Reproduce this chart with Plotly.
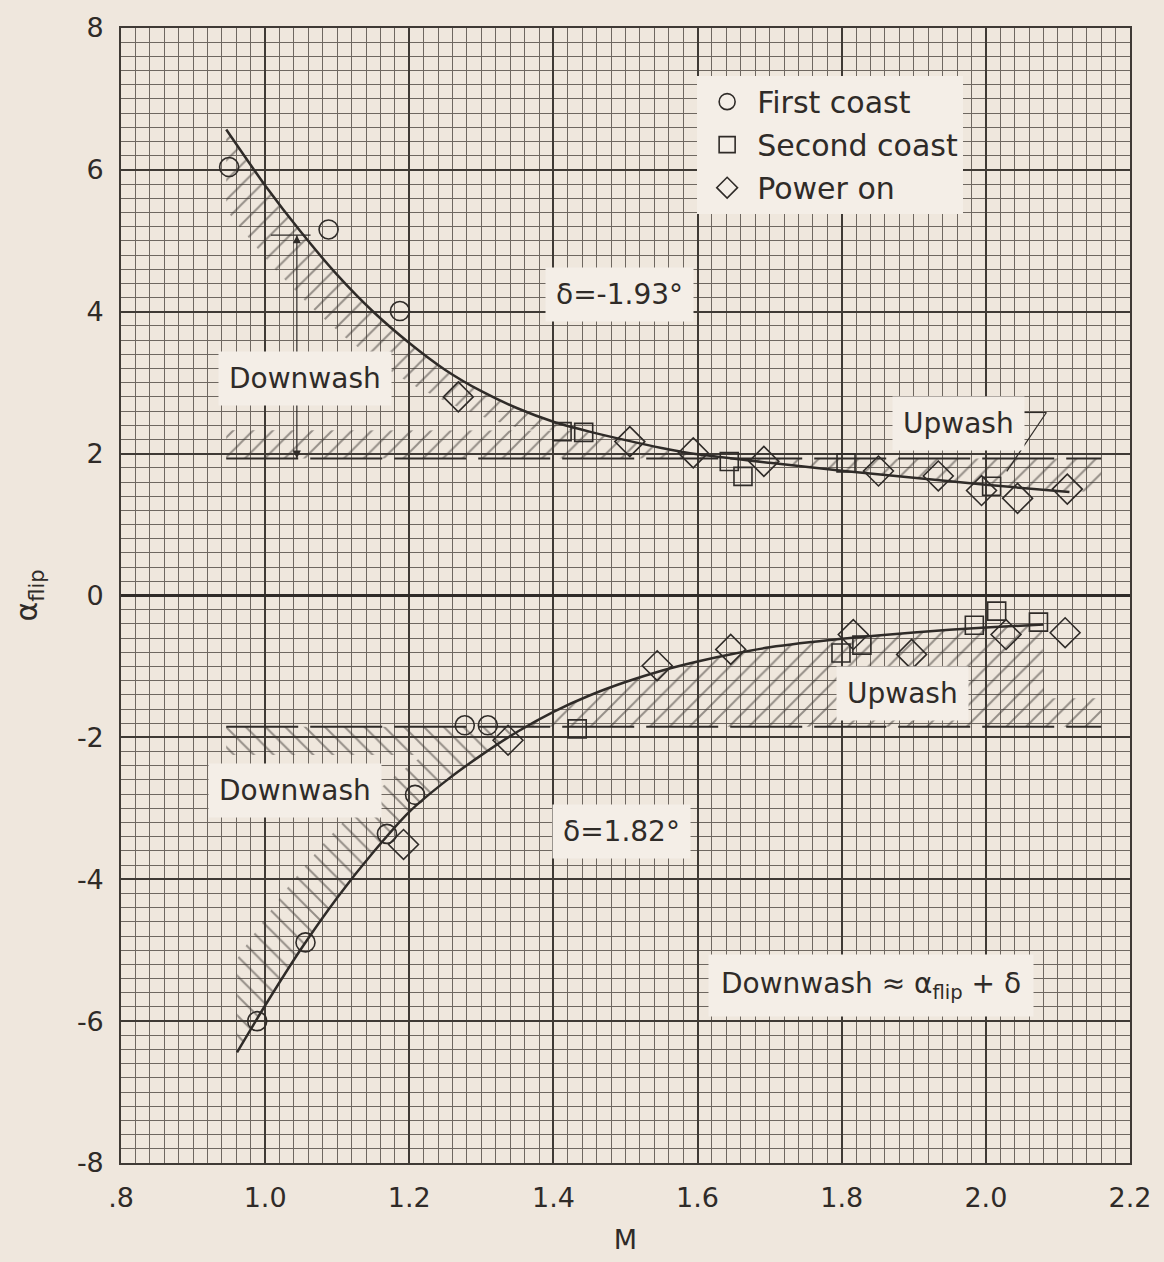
import numpy as np
import plotly.graph_objects as go

# ---------------- data ----------------
first_M = [0.950, 1.088, 1.187, 1.277, 1.309, 1.208, 1.169, 1.056, 0.989]
first_a = [6.04, 5.16, 4.01, -1.83, -1.83, -2.81, -3.36, -4.89, -6.00]

second_M = [1.412, 1.442, 1.644, 1.663, 1.806, 2.008, 1.433, 1.799, 1.828, 1.984, 2.015, 2.073]
second_a = [2.31, 2.30, 1.89, 1.68, 1.87, 1.54, -1.88, -0.81, -0.70, -0.42, -0.22, -0.375]

power_M = [1.268, 1.506, 1.594, 1.692, 1.851, 1.934, 1.994, 2.044, 2.113,
           1.192, 1.337, 1.544, 1.646, 1.816, 1.897, 2.028, 2.110]
power_a = [2.80, 2.17, 2.01, 1.89, 1.755, 1.685, 1.48, 1.37, 1.50,
           -3.51, -2.04, -0.99, -0.76, -0.55, -0.83, -0.55, -0.525]

upper_curve_M = [0.946, 1.00, 1.05, 1.10, 1.15, 1.20, 1.25, 1.30, 1.35, 1.40, 1.45,
                 1.50, 1.55, 1.60, 1.70, 1.80, 1.90, 2.00, 2.116]
upper_curve_a = [6.57, 5.78, 5.12, 4.52, 4.00, 3.56, 3.18, 2.88, 2.64, 2.45, 2.31,
                 2.19, 2.08, 1.99, 1.87, 1.76, 1.66, 1.56, 1.46]

lower_curve_M = [0.961, 1.00, 1.05, 1.10, 1.15, 1.20, 1.25, 1.30, 1.35, 1.40, 1.45,
                 1.50, 1.55, 1.60, 1.65, 1.70, 1.80, 1.90, 2.00, 2.08]
lower_curve_a = [-6.44, -5.78, -4.98, -4.26, -3.62, -3.05, -2.62, -2.25, -1.92, -1.64, -1.41,
                 -1.22, -1.06, -0.93, -0.82, -0.73, -0.61, -0.52, -0.45, -0.41]

upper_delta_line = 1.93    # alpha where downwash = 0 for delta = -1.93 deg
lower_delta_line = -1.85   # alpha where downwash = 0 for delta = 1.82 deg
line_M_range = [0.946, 2.16]

# downwash dimension arrow (M, alpha at curve)
dim_M = 1.044
dim_top = 5.08

x_tick_vals = [0.8, 1.0, 1.2, 1.4, 1.6, 1.8, 2.0, 2.2]
x_tick_text = [".8", "1.0", "1.2", "1.4", "1.6", "1.8", "2.0", "2.2"]
y_tick_vals = [-8, -6, -4, -2, 0, 2, 4, 6, 8]
y_tick_text = ["-8", "-6", "-4", "-2", "0", "2", "4", "6", "8"]

# ---------------- styling ----------------
PAPER = "#efe7dd"
BOX = "#f4eee7"
INK = "#2f2b28"
GRID_MAJ = "#3f3a35"
GRID_MIN = "#6e6760"
FONT = "DejaVu Sans"

fig = go.Figure()

def hatch_trace(xs, top, bot, shape):
    xs = np.asarray(xs); top = np.asarray(top); bot = np.asarray(bot)
    px = np.concatenate([xs, xs[::-1]])
    py = np.concatenate([top, bot[::-1]])
    return go.Scatter(x=px, y=py, mode="lines", fill="toself",
                      line=dict(width=0, color="rgba(0,0,0,0)"),
                      fillcolor="rgba(0,0,0,0)",
                      fillpattern=dict(shape=shape, size=14, solidity=0.14,
                                       fgcolor="#3a3531", bgcolor="rgba(0,0,0,0)"),
                      hoverinfo="skip", showlegend=False)

band_h = 0.4
band_w = 0.08

# upper hatching
xs = np.linspace(line_M_range[0], line_M_range[1], 400)
cu = np.interp(xs, upper_curve_M, upper_curve_a)
L = upper_delta_line
top = np.maximum(L, np.minimum(cu, L + band_h))
bot = np.minimum(L, cu)
fig.add_trace(hatch_trace(xs, top, bot, "/"))
m = cu > L + band_h
xs1 = xs[m]
c1 = cu[m]
b1 = np.maximum(L + band_h, np.interp(xs1 + band_w, upper_curve_M, upper_curve_a))
fig.add_trace(hatch_trace(xs1, c1, b1, "/"))

# lower hatching
L2 = lower_delta_line
cl = np.interp(xs, lower_curve_M, lower_curve_a, right=L2 + band_h)
ml = cl < L2
xs_l = xs[ml]
fig.add_trace(hatch_trace(xs_l, np.full(xs_l.shape, L2), np.maximum(cl[ml], L2 - band_h), "\\"))
m3 = (cl < L2 - band_h) & (xs >= lower_curve_M[0])
xs3 = xs[m3]
t3 = np.minimum(L2 - band_h, np.interp(xs3 + band_w, lower_curve_M, lower_curve_a))
fig.add_trace(hatch_trace(xs3, t3, cl[m3], "\\"))
mr = cl >= L2
xs_r = xs[mr]
fig.add_trace(hatch_trace(xs_r, cl[mr], np.full(xs_r.shape, L2), "/"))

# delta lines (dashed)
for yv in (upper_delta_line, lower_delta_line):
    fig.add_trace(go.Scatter(x=line_M_range, y=[yv, yv], mode="lines",
                             line=dict(color=INK, width=2, dash="72px,12px"),
                             hoverinfo="skip", showlegend=False))

# faired curves
fig.add_trace(go.Scatter(x=upper_curve_M, y=upper_curve_a, mode="lines",
                         line=dict(color=INK, width=2.5, shape="spline", smoothing=0.6),
                         hoverinfo="skip", showlegend=False))
fig.add_trace(go.Scatter(x=lower_curve_M, y=lower_curve_a, mode="lines",
                         line=dict(color=INK, width=2.5, shape="spline", smoothing=0.6),
                         hoverinfo="skip", showlegend=False))

# dimension arrow: line with arrow markers at both ends
fig.add_trace(go.Scatter(x=[dim_M, dim_M], y=[dim_top, upper_delta_line], mode="lines+markers",
                         line=dict(color=INK, width=1.2),
                         marker=dict(symbol=["arrow-up", "arrow-down"], size=8, color=INK),
                         hoverinfo="skip", showlegend=False))
fig.add_trace(go.Scatter(x=[dim_M - 0.036, dim_M + 0.019], y=[dim_top, dim_top], mode="lines",
                         line=dict(color=INK, width=1.2), hoverinfo="skip", showlegend=False))

# data points
mk = dict(color=INK, line=dict(color=INK, width=1.6))
fig.add_trace(go.Scatter(x=first_M, y=first_a, mode="markers", name="First coast",
                         legendgroup="a",
                         marker=dict(symbol="circle-open", size=19, **mk)))
fig.add_trace(go.Scatter(x=second_M, y=second_a, mode="markers", name="Second coast",
                         legendgroup="b",
                         marker=dict(symbol="square-open", size=18, **mk)))
fig.add_trace(go.Scatter(x=power_M, y=power_a, mode="markers", name="Power on",
                         legendgroup="c",
                         marker=dict(symbol="diamond-open", size=23, **mk)))

# text labels
def label(x, y, text, size=28, pad=10):
    fig.add_annotation(x=x, y=y, xref="x", yref="y", text=text, showarrow=False,
                       font=dict(family=FONT, size=size, color=INK),
                       bgcolor=BOX, borderpad=pad)

label(1.055, 3.06, "Downwash")
label(1.492, 4.25, "δ=-1.93°")
label(1.962, 2.42, "Upwash")
label(1.884, -1.375, "Upwash")
label(1.041, -2.75, "Downwash")
label(1.494, -3.33, "δ=1.82°")
label(1.84, -5.5, "Downwash ≈ α<sub>flip</sub> + δ", pad=12)

# upwash leader
fig.add_shape(type="line", x0=2.051, x1=2.084, y0=2.58, y1=2.58, line=dict(color=INK, width=1.2))
fig.add_shape(type="line", x0=2.084, x1=2.029, y0=2.58, y1=1.75, line=dict(color=INK, width=1.2))

fig.update_layout(
    width=1164, height=1262,
    margin=dict(l=121, r=34, t=22, b=86),
    paper_bgcolor=PAPER, plot_bgcolor=PAPER,
    font=dict(family=FONT, color=INK, size=26),
    legend=dict(x=0.571, y=0.958, xanchor="left", yanchor="top",
                bgcolor=BOX, borderwidth=0, tracegroupgap=1, itemwidth=50,
                font=dict(family=FONT, size=30, color=INK)),
    xaxis=dict(range=[0.8, 2.2], tickmode="array", tickvals=x_tick_vals, ticktext=x_tick_text,
               showgrid=True, gridcolor=GRID_MAJ, gridwidth=1.6,
               minor=dict(dtick=0.02, tick0=0.8, showgrid=True, gridcolor=GRID_MIN, gridwidth=1),
               showline=True, mirror=True, linecolor=GRID_MAJ, linewidth=1.6,
               zeroline=False, ticks="", ticklabelstandoff=10,
               tickfont=dict(size=27),
               title=dict(text="M", font=dict(size=27), standoff=18)),
    yaxis=dict(range=[-8, 8], tickmode="array", tickvals=y_tick_vals, ticktext=y_tick_text,
               showgrid=True, gridcolor=GRID_MAJ, gridwidth=1.6,
               minor=dict(dtick=0.2, tick0=0, showgrid=True, gridcolor=GRID_MIN, gridwidth=1),
               showline=True, mirror=True, linecolor=GRID_MAJ, linewidth=1.6,
               zeroline=True, zerolinecolor=INK, zerolinewidth=3,
               ticks="", ticklabelstandoff=10,
               tickfont=dict(size=27),
               title=dict(text="α<sub>flip</sub>", font=dict(size=30), standoff=30)),
    yaxis2=dict(range=[-8, 8], overlaying="y", side="left", dtick=1, tick0=0,
                showgrid=True, gridcolor=GRID_MAJ, gridwidth=1.6,
                showticklabels=False, ticks="", zeroline=False, showline=False),
)

fig.write_html("out.html",
               config={"displayModeBar": False},
               post_script="document.body.style.margin='0';"
                           "document.body.style.background='" + PAPER + "';"
                           "document.documentElement.style.background='" + PAPER + "';")
